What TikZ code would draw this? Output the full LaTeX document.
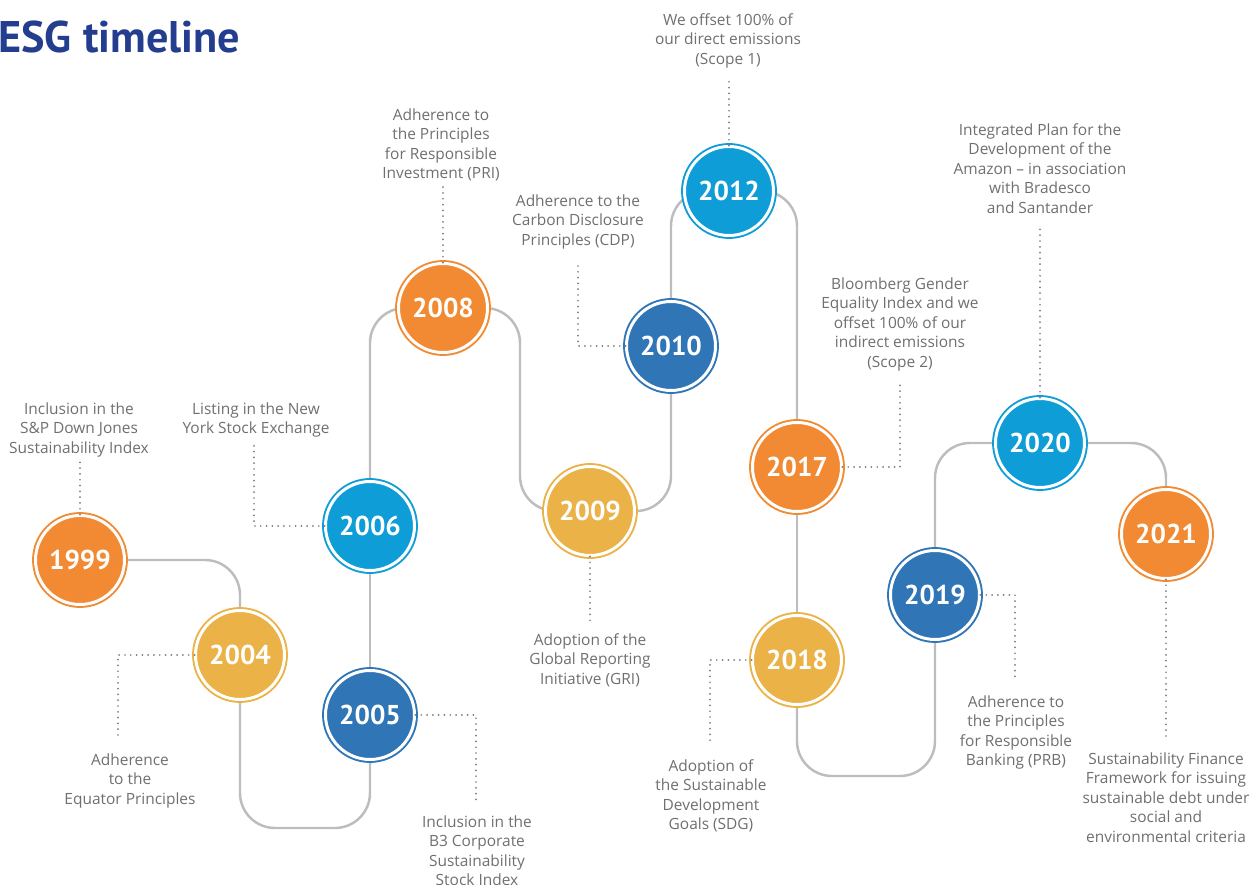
\documentclass[tikz,border=0pt]{standalone}
\usepackage{fontspec}
\setmainfont{PT Sans}
\newfontfamily\notefont{Open Sans}
\usetikzlibrary{backgrounds}
\definecolor{esgorange}{HTML}{F18A32}
\definecolor{esggold}{HTML}{EAB247}
\definecolor{esgblue}{HTML}{3075B6}
\definecolor{esgsky}{HTML}{0F9DD7}
\definecolor{esgtitle}{HTML}{233D8F}
\definecolor{esgtext}{HTML}{6F6F6F}
\definecolor{esgtrack}{HTML}{BDBDBD}
\definecolor{esgdots}{HTML}{7A7A7A}
\tikzset{
  year/.style={circle, minimum size=1.78cm, inner sep=0pt, fill=#1, draw=#1,
    double=white, double distance=1.7pt, line width=1.1pt, text=white,
    font=\fontsize{15.5}{15.5}\selectfont\bfseries},
  note/.style={anchor=north, align=center, text=esgtext, inner sep=0pt,
    font=\notefont\fontsize{8.8}{11.1}\selectfont},
  track/.style={draw=esgtrack, line width=1.4pt, rounded corners=0.7cm},
  leader/.style={draw=esgdots, line width=1.1pt, line cap=round,
    dash pattern=on 0pt off 3.3pt},
}
\begin{document}
\begin{tikzpicture}[x=0.02cm, y=-0.02cm] % one unit = one pixel of the layout
        \useasboundingbox (0,0) rectangle (1259,885);
        \node[anchor=base west, inner sep=0pt, text=esgtitle,
          font=\fontsize{25.2}{25.2}\selectfont\bfseries] (title) at (-2,53) {ESG timeline};

        % years
        \node[year=esgorange] (n1999) at (80,560) {1999};
        \node[year=esggold]   (n2004) at (240,655) {2004};
        \node[year=esgblue]   (n2005) at (370,715) {2005};
        \node[year=esgsky]    (n2006) at (370,526) {2006};
        \node[year=esgorange] (n2008) at (443,308) {2008};
        \node[year=esggold]   (n2009) at (590,511) {2009};
        \node[year=esgblue]   (n2010) at (671,346) {2010};
        \node[year=esgsky]    (n2012) at (729,191) {2012};
        \node[year=esgorange] (n2017) at (797,467) {2017};
        \node[year=esggold]   (n2018) at (797,660) {2018};
        \node[year=esgblue]   (n2019) at (935,595) {2019};
        \node[year=esgsky]    (n2020) at (1040,443) {2020};
        \node[year=esgorange] (n2021) at (1166,534) {2021};

        % the road between them
        \begin{scope}[on background layer]
        \draw[track] (n1999.center) -| (n2004.center);
        \draw[track] (n2004.center) -- ++(0,173) -| (n2005.center);
        \draw[track] (n2005) -- (n2006);
        \draw[track] (n2006.center) |- (n2008.center);
        \draw[track] (n2008.center) -- ++(77,0) |- (n2009.center);
        \draw[track] (n2009.center) -| (n2010.center);
        \draw[track] (n2010.center) |- (n2012.center);
        \draw[track] (n2012.center) -| (n2017.center);
        \draw[track] (n2017) -- (n2018);
        \draw[track] (n2018.center) -- ++(0,116) -| (n2019.center);
        \draw[track] (n2019.center) |- (n2020.center);
        \draw[track] (n2020.center) -| (n2021.center);
        \end{scope}

        % texts
        \node[note] (t1999) at (79,402) {Inclusion in the\\S\&P Down Jones\\Sustainability Index};
        \node[note] (t2004) at (130,753) {Adherence\\to the\\Equator Principles};
        \node[note] (t2005) at (477,815) {Inclusion in the\\B3 Corporate\\Sustainability\\Stock Index};
        \node[note] (t2006) at (256,402) {Listing in the New\\York Stock Exchange};
        \node[note] (t2008) at (441,108) {Adherence to\\the Principles\\for Responsible\\Investment (PRI)};
        \node[note] (t2009) at (590,633) {Adoption of the\\Global Reporting\\Initiative (GRI)};
        \node[note] (t2010) at (578,194) {Adherence to the\\Carbon Disclosure\\Principles (CDP)};
        \node[note] (t2012) at (728,13) {We offset 100\% of\\our direct emissions\\(Scope 1)};
        \node[note] (t2017) at (900,277) {Bloomberg Gender\\Equality Index and we\\offset 100\% of our\\indirect emissions\\(Scope 2)};
        \node[note] (t2018) at (711,759) {Adoption of\\the Sustainable\\Development\\Goals (SDG)};
        \node[note] (t2019) at (1016,695) {Adherence to\\the Principles\\for Responsible\\Banking (PRB)};
        \node[note] (t2020) at (1040,123) {Integrated Plan for the\\Development of the\\Amazon – in association\\with Bradesco\\and Santander};
        \node[note] (t2021) at (1166,752) {Sustainability Finance\\Framework for issuing\\sustainable debt under\\social and\\environmental criteria};

        % dotted leaders
        \coordinate (e1999) at (80,460);
        \coordinate (e2004) at (118,740);
        \coordinate (e2005) at (476,800);
        \coordinate (e2006) at (254,440);
        \coordinate (e2008) at (443,185);
        \coordinate (e2009) at (590,625);
        \coordinate (e2010) at (578,262);
        \coordinate (e2012) at (729,78);
        \coordinate (e2017) at (900,380);
        \coordinate (e2018) at (710,745);
        \coordinate (e2019) at (1015,680);
        \coordinate (e2020) at (1040,225);
        \coordinate (e2021) at (1166,740);
        \draw[leader] (n1999.north) -- (e1999);
        \draw[leader] (n2004.west) -| (e2004);
        \draw[leader] (n2005.east) -| (e2005);
        \draw[leader] (n2006.west) -| (e2006);
        \draw[leader] (n2008.north) -- (e2008);
        \draw[leader] (n2009.south) -- (e2009);
        \draw[leader] (n2010.west) -| (e2010);
        \draw[leader] (n2012.north) -- (e2012);
        \draw[leader] (n2017.east) -| (e2017);
        \draw[leader] (n2018.west) -| (e2018);
        \draw[leader] (n2019.east) -| (e2019);
        \draw[leader] (n2020.north) -- (e2020);
        \draw[leader] (n2021.south) -- (e2021);
\end{tikzpicture}
\end{document}
